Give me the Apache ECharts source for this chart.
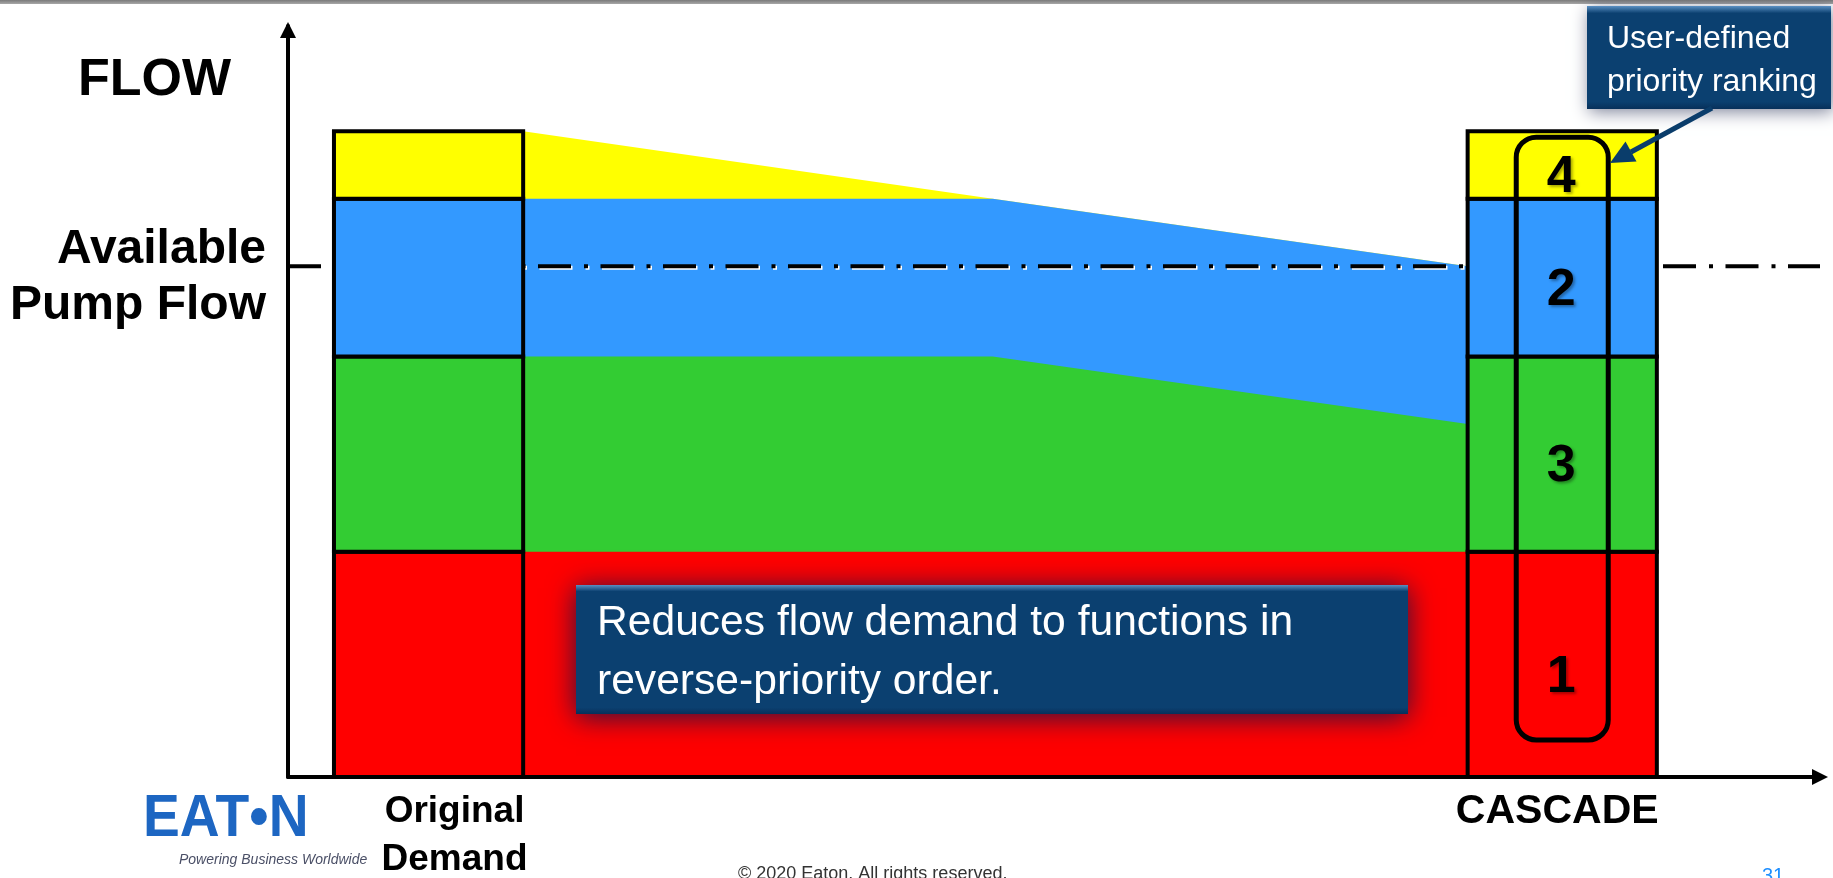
<!DOCTYPE html>
<html>
<head>
<meta charset="utf-8">
<script src="https://cdn.jsdelivr.net/npm/echarts@6/dist/echarts.min.js"></script>
<style>
  html, body { margin: 0; padding: 0; background: #ffffff; }
  #chart { width: 1833px; height: 878px; }
</style>
</head>
<body>
<div id="chart"></div>
<script>
// Flow demand of each function, stacked from the bottom up
const priorityRanks = ['1', '3', '2', '4'];
const originalDemand = [30, 26, 21, 9];

// The two stages drawn as stacked columns (x in axis units)
const stageNames = ['Original\nDemand', 'CASCADE'];
const stageStart = [3, 77];
const stageEnd = [15.35, 89.35];

// Transition between the stages: demand of each function along the way
const transitionX = [15.35, 46, 77];
const flowRank1 = [30, 30, 30];
const flowRank3 = [26, 26, 17];
const flowRank2 = [21, 21, 21];
const flowRank4 = [9, 0, 0];

const availablePumpFlow = 68;

// ---- styles ----
const FONT = '"Liberation Sans", Arial, Helvetica, sans-serif';
const segmentColors = ['#FF0000', '#33CC33', '#3399FF', '#FFFF00'];
const NAVY = '#0b4070';

// cumulative tops of the transition layers
const flowLayers = [flowRank1, flowRank3, flowRank2, flowRank4];
const flowTops = [];
let running = transitionX.map(() => 0);
flowLayers.forEach(layer => {
  running = running.map((v, i) => v + layer[i]);
  flowTops.push(running);
});

// topmost layer first so each lower layer paints over the one above it
const flowSeries = flowTops.map((tops, k) => ({
  type: 'line',
  z: 2,
  silent: true,
  symbol: 'none',
  data: transitionX.map((x, i) => [x, tops[i]]),
  lineStyle: { width: 0, opacity: 0 },
  areaStyle: { color: segmentColors[k], opacity: 1 }
})).reverse();

function renderStage(params, api) {
  const i = params.dataIndex;
  const x0 = api.value(0);
  const x1 = api.value(1);
  const children = [];
  const centers = [];
  let base = 0;
  originalDemand.forEach((v, k) => {
    const pTop = api.coord([x0, base + v]);
    const pBot = api.coord([x1, base]);
    children.push({
      type: 'rect',
      shape: { x: pTop[0], y: pTop[1], width: pBot[0] - pTop[0], height: pBot[1] - pTop[1] },
      style: { fill: segmentColors[k], stroke: '#000', lineWidth: 4 }
    });
    centers.push((pTop[1] + pBot[1]) / 2);
    base += v;
  });
  const left = api.coord([x0, 0]);
  const right = api.coord([x1, base]);
  const cx = (left[0] + right[0]) / 2;
  const axisY = left[1];

  if (i === 1) {
    // priority ranking frame
    children.push({
      type: 'rect',
      shape: { x: cx - 46, y: right[1] + 6, width: 92, height: axisY - 37 - (right[1] + 6), r: 20 },
      style: { fill: 'none', stroke: '#000', lineWidth: 5 }
    });
    priorityRanks.forEach((rank, k) => {
      children.push({
        type: 'text',
        x: cx - 1,
        y: centers[k] + 13,
        style: {
          text: rank,
          font: 'bold 52px ' + FONT,
          fill: '#000',
          align: 'center',
          verticalAlign: 'middle',
          textShadowColor: 'rgba(0,0,0,0.35)',
          textShadowOffsetX: 2,
          textShadowOffsetY: 2,
          textShadowBlur: 3
        }
      });
    });
  }

  children.push({
    type: 'text',
    x: cx + (i === 0 ? 26 : -5),
    y: axisY + 11,
    style: {
      text: stageNames[i],
      font: 'bold ' + (i === 0 ? 37 : 41) + 'px ' + FONT,
      fill: '#000',
      align: 'center',
      verticalAlign: 'top',
      lineHeight: 48
    }
  });
  return { type: 'group', children };
}

const chart = echarts.init(document.getElementById('chart'), null, { renderer: 'canvas' });

chart.setOption({
  animation: false,
  backgroundColor: '#ffffff',
  grid: { left: 288, right: 13, top: 26, bottom: 101, containLabel: false },
  xAxis: {
    type: 'value', min: 0, max: 100, z: 10,
    axisLine: {
      show: true, onZero: false,
      symbol: ['none', 'triangle'], symbolSize: [16, 16], symbolOffset: [0, 0],
      lineStyle: { color: '#000', width: 4 }
    },
    axisTick: { show: false }, axisLabel: { show: false }, splitLine: { show: false }
  },
  yAxis: {
    type: 'value', min: 0, max: 100, z: 10,
    axisLine: {
      show: true, onZero: false,
      symbol: ['none', 'triangle'], symbolSize: [16, 16], symbolOffset: [0, -4],
      lineStyle: { color: '#000', width: 4 }
    },
    axisTick: { show: false }, axisLabel: { show: false }, splitLine: { show: false }
  },
  series: [
    ...flowSeries,
    {
      // available pump flow level
      type: 'line',
      z: 3,
      silent: true,
      symbol: 'none',
      data: [[0, availablePumpFlow], [100, availablePumpFlow]],
      lineStyle: {
        color: '#000', width: 4, type: [33, 13, 4, 12.5], cap: 'butt',
        shadowColor: '#ffffff', shadowOffsetX: 1.5, shadowOffsetY: 1.5, shadowBlur: 0
      }
    },
    {
      type: 'custom',
      z: 5,
      silent: true,
      clip: false,
      data: [[0, availablePumpFlow]],
      renderItem: (params, api) => {
        const pt = api.coord([api.value(0), api.value(1)]);
        return {
          type: 'text',
          x: pt[0] - 22,
          y: pt[1] - 45,
          style: {
            text: 'Available\nPump Flow',
            font: 'bold 48px ' + FONT,
            fill: '#000',
            align: 'right',
            verticalAlign: 'top',
            lineHeight: 56
          }
        };
      }
    },
    {
      type: 'custom',
      z: 5,
      silent: true,
      clip: false,
      encode: { x: [0, 1] },
      data: stageNames.map((name, i) => [stageStart[i], stageEnd[i]]),
      renderItem: renderStage
    }
  ],
  graphic: [
    {
      type: 'rect', x: 0, y: 0, z: 20,
      shape: { width: 1833, height: 4 },
      style: { fill: { type: 'linear', x: 0, y: 0, x2: 0, y2: 1, colorStops: [{ offset: 0, color: '#7a7a7a' }, { offset: 1, color: '#a8a8a8' }] } }
    },
    {
      type: 'text', x: 78, y: 81, z: 20,
      style: { text: 'FLOW', font: 'bold 52px ' + FONT, fill: '#000', verticalAlign: 'middle' }
    },
    // priority ranking note
    {
      type: 'rect', x: 1587, y: 6, z: 20,
      shape: { width: 244, height: 103 },
      style: {
        fill: { type: 'linear', x: 0, y: 0, x2: 0, y2: 1, colorStops: [
          { offset: 0, color: '#5a8fc2' }, { offset: 0.07, color: NAVY },
          { offset: 0.93, color: NAVY }, { offset: 1, color: '#07305a' }] },
        shadowColor: 'rgba(20,30,70,0.55)', shadowBlur: 16, shadowOffsetX: 2, shadowOffsetY: 3
      }
    },
    {
      type: 'text', x: 1607, y: 18, z: 21,
      style: {
        text: 'User-defined\npriority ranking', font: '32px ' + FONT, fill: '#ffffff',
        verticalAlign: 'top', lineHeight: 43
      }
    },
    {
      type: 'polyline', z: 21,
      shape: { points: [[1712, 108], [1631, 152]] },
      style: { stroke: '#0a3d6b', lineWidth: 5, fill: 'none' }
    },
    {
      type: 'polygon', z: 21,
      shape: { points: [[1610, 163], [1636.5, 161.5], [1625.5, 141.5]] },
      style: { fill: '#0a3d6b' }
    },
    // cascade explanation
    {
      type: 'rect', x: 576, y: 585, z: 20,
      shape: { width: 832, height: 129 },
      style: {
        fill: { type: 'linear', x: 0, y: 0, x2: 0, y2: 1, colorStops: [
          { offset: 0, color: '#5a8fc2' }, { offset: 0.05, color: NAVY },
          { offset: 0.95, color: NAVY }, { offset: 1, color: '#07305a' }] },
        shadowColor: 'rgba(15,20,70,0.9)', shadowBlur: 26, shadowOffsetX: 0, shadowOffsetY: 3
      }
    },
    {
      type: 'text', x: 597, y: 594, z: 21,
      style: {
        text: 'Reduces flow demand to functions in\nreverse-priority order.',
        font: '42.6px ' + FONT, fill: '#ffffff', verticalAlign: 'top', lineHeight: 59
      }
    },
    // footer
    {
      type: 'text', x: 143, y: 819, z: 20, scaleX: 0.92,
      style: { text: 'EAT\u2022N', font: 'bold 60px ' + FONT, fill: '#1d66c2', verticalAlign: 'middle' }
    },
    {
      type: 'text', x: 179, y: 860, z: 20,
      style: { text: 'Powering Business Worldwide', font: 'italic 14px ' + FONT, fill: '#4a4f66', verticalAlign: 'middle' }
    },
    {
      type: 'text', x: 738, y: 874, z: 20,
      style: { text: '\u00a9 2020 Eaton. All rights reserved.', font: '18px ' + FONT, fill: '#333333', verticalAlign: 'middle' }
    },
    {
      type: 'text', x: 1762, y: 876, z: 20,
      style: { text: '31', font: '20px ' + FONT, fill: '#1e8fff', verticalAlign: 'middle' }
    }
  ]
});
</script>
</body>
</html>
